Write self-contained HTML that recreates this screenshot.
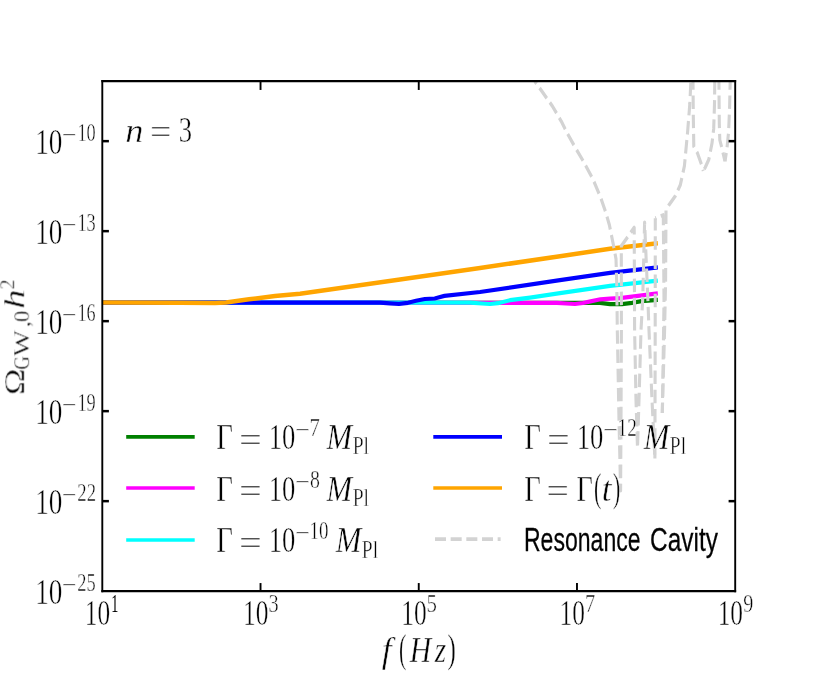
<!DOCTYPE html>
<html><head><meta charset="utf-8"><title>chart</title>
<style>html,body{margin:0;padding:0;background:#fff;}svg{display:block;}</style>
</head><body>
<svg width="817" height="676" viewBox="0 0 817 676">
<rect width="817" height="676" fill="#fff"/>
<defs><clipPath id="ax"><rect x="125.37" y="81.15" width="775.61" height="510.0"/></clipPath></defs>
<g transform="scale(0.816,1)">
<g clip-path="url(#ax)">
<polyline points="125.37,302.60 720.59,302.80 735.29,302.80 747.55,304.20 762.25,304.20 774.51,302.80 786.03,301.10 806.13,299.90" fill="none" stroke="#008000" stroke-width="4.2" stroke-linejoin="round"/>
<polyline points="125.37,302.60 682.60,302.90 693.63,303.50 704.66,304.00 714.46,303.00 722.30,301.60 735.78,299.30 747.55,298.70 759.80,298.20 806.13,293.40" fill="none" stroke="#ff00ff" stroke-width="4.2" stroke-linejoin="round"/>
<polyline points="125.37,302.60 575.98,302.60 590.69,303.50 600.49,304.00 610.29,303.20 625.00,300.20 649.51,297.60 686.27,293.20 747.55,285.90 806.13,280.70" fill="none" stroke="#00ffff" stroke-width="4.2" stroke-linejoin="round"/>
<polyline points="125.37,302.60 465.69,302.60 477.94,303.30 488.97,303.90 500.00,302.80 509.80,300.80 520.59,299.00 532.60,298.50 544.61,295.90 588.24,292.00 686.27,280.10 747.55,272.80 806.13,267.40" fill="none" stroke="#0000ff" stroke-width="4.2" stroke-linejoin="round"/>
<polyline points="125.37,302.60 220.59,302.80 263.48,303.00 276.96,302.60 305.15,299.30 337.01,296.00 367.65,293.70 490.20,279.60 588.24,268.00 686.27,256.20 747.55,248.80 806.13,243.30" fill="none" stroke="#ffa500" stroke-width="4.5" stroke-linejoin="round"/>
<polyline points="655.39,81.15 676.84,106.00 687.87,121.30 695.71,134.00 703.43,145.30 714.83,161.20 725.37,177.20 728.43,182.60 736.15,197.80 742.16,211.90 746.81,225.00 751.72,245.00 754.90,259.00 755.88,286.00 756.50,330.00 758.58,420.00 760.54,490.50 761.03,420.00 761.52,330.00 761.40,246.00 777.21,227.60 777.70,330.00 779.41,400.00 781.25,448.00 783.09,400.00 785.54,330.00 787.62,300.00 789.95,222.30 794.00,300.00 795.34,330.00 799.02,400.00 802.57,458.50" fill="none" stroke="#d3d3d3" stroke-width="3.8" stroke-dasharray="13.5 5.7" stroke-dashoffset="10.19" stroke-linejoin="round" stroke-linecap="butt"/>
<polyline points="802.57,458.50 802.94,330.00 803.06,218.30" fill="none" stroke="#d3d3d3" stroke-width="3.8" stroke-dasharray="13.5 5.7" stroke-dashoffset="2.40" stroke-linejoin="round" stroke-linecap="butt"/>
<polyline points="803.06,218.30 812.87,215.00 813.73,300.00 813.24,330.00 811.64,413.00" fill="none" stroke="#d3d3d3" stroke-width="3.8" stroke-dasharray="13.5 5.7" stroke-dashoffset="12.20" stroke-linejoin="round" stroke-linecap="butt"/>
<polyline points="811.64,413.00 814.46,330.00 815.69,280.00 816.18,210.50" fill="none" stroke="#d3d3d3" stroke-width="3.8" stroke-dasharray="13.5 5.7" stroke-dashoffset="2.94" stroke-linejoin="round" stroke-linecap="butt"/>
<polyline points="816.18,210.50 819.36,205.60 827.57,196.00 833.70,185.00 838.73,166.00 842.65,132.00 845.34,104.00 846.69,81.15" fill="none" stroke="#d3d3d3" stroke-width="3.8" stroke-dasharray="13.5 5.7" stroke-dashoffset="13.50" stroke-linejoin="round" stroke-linecap="butt"/>
<polyline points="849.26,81.15 849.63,115.60 850.25,146.50 854.66,153.00 859.68,164.40 861.89,170.80" fill="none" stroke="#d3d3d3" stroke-width="3.8" stroke-dasharray="13.5 5.7" stroke-dashoffset="4.90" stroke-linejoin="round" stroke-linecap="butt"/>
<polyline points="861.89,170.80 864.22,167.50 868.63,159.50 872.55,143.30 874.63,128.70 875.61,104.00 875.98,81.15" fill="none" stroke="#d3d3d3" stroke-width="3.8" stroke-dasharray="13.5 5.7" stroke-dashoffset="17.14" stroke-linejoin="round" stroke-linecap="butt"/>
<polyline points="881.00,81.15 881.50,123.80 882.11,140.00 884.19,146.50 888.48,161.30" fill="none" stroke="#d3d3d3" stroke-width="3.8" stroke-dasharray="13.5 5.7" stroke-dashoffset="4.90" stroke-linejoin="round" stroke-linecap="butt"/>
<polyline points="888.48,161.30 890.93,148.00 892.89,132.00 894.12,107.50 894.85,81.15" fill="none" stroke="#d3d3d3" stroke-width="3.8" stroke-dasharray="13.5 5.7" stroke-dashoffset="4.87" stroke-linejoin="round" stroke-linecap="butt"/>
</g>
<line x1="154.66" x2="238.60" y1="436.8" y2="436.8" stroke="#008000" stroke-width="3.7"/>
<line x1="154.66" x2="238.60" y1="488.0" y2="488.0" stroke="#ff00ff" stroke-width="3.7"/>
<line x1="154.66" x2="238.60" y1="540.0" y2="540.0" stroke="#00ffff" stroke-width="3.7"/>
<line x1="531.00" x2="615.20" y1="436.8" y2="436.8" stroke="#0000ff" stroke-width="3.7"/>
<line x1="531.00" x2="615.20" y1="488.0" y2="488.0" stroke="#ffa500" stroke-width="3.7"/>
<line x1="533.09" x2="613.48" y1="539.1" y2="539.1" stroke="#d3d3d3" stroke-width="3.7" stroke-dasharray="13.5 5.7"/>
</g>
<line x1="102.3" x2="102.3" y1="80.0" y2="592.3" stroke="#000" stroke-width="1.9"/>
<line x1="735.2" x2="735.2" y1="80.0" y2="592.3" stroke="#000" stroke-width="1.9"/>
<line x1="101.35" x2="736.1500000000001" y1="81.15" y2="81.15" stroke="#000" stroke-width="2.3"/>
<line x1="101.35" x2="736.1500000000001" y1="591.15" y2="591.15" stroke="#000" stroke-width="2.3"/>
<line x1="260.53" x2="260.53" y1="591.15" y2="583.05" stroke="#000" stroke-width="1.9"/>
<line x1="260.53" x2="260.53" y1="81.15" y2="89.95" stroke="#000" stroke-width="1.9"/>
<line x1="418.75" x2="418.75" y1="591.15" y2="583.05" stroke="#000" stroke-width="1.9"/>
<line x1="418.75" x2="418.75" y1="81.15" y2="89.95" stroke="#000" stroke-width="1.9"/>
<line x1="576.98" x2="576.98" y1="591.15" y2="583.05" stroke="#000" stroke-width="1.9"/>
<line x1="576.98" x2="576.98" y1="81.15" y2="89.95" stroke="#000" stroke-width="1.9"/>
<line x1="102.3" x2="108.89999999999999" y1="141.15" y2="141.15" stroke="#000" stroke-width="2.5"/>
<line x1="735.2" x2="728.6" y1="141.15" y2="141.15" stroke="#000" stroke-width="2.5"/>
<line x1="102.3" x2="108.89999999999999" y1="231.15" y2="231.15" stroke="#000" stroke-width="2.5"/>
<line x1="735.2" x2="728.6" y1="231.15" y2="231.15" stroke="#000" stroke-width="2.5"/>
<line x1="102.3" x2="108.89999999999999" y1="321.15" y2="321.15" stroke="#000" stroke-width="2.5"/>
<line x1="735.2" x2="728.6" y1="321.15" y2="321.15" stroke="#000" stroke-width="2.5"/>
<line x1="102.3" x2="108.89999999999999" y1="411.15" y2="411.15" stroke="#000" stroke-width="2.5"/>
<line x1="735.2" x2="728.6" y1="411.15" y2="411.15" stroke="#000" stroke-width="2.5"/>
<line x1="102.3" x2="108.89999999999999" y1="501.15" y2="501.15" stroke="#000" stroke-width="2.5"/>
<line x1="735.2" x2="728.6" y1="501.15" y2="501.15" stroke="#000" stroke-width="2.5"/>
<g id="txt" stroke="#fff" stroke-width="0.45" opacity="0.99">
<text transform="translate(35.21,154.35) scale(0.7428,1)" font-family="'Liberation Serif', serif" font-style="normal" font-size="36.66" fill="#000">10</text>
<text transform="translate(61.70,143.35) scale(1.0404,1)" font-family="'Liberation Serif', serif" font-style="normal" font-size="24.99" fill="#000">−</text>
<text transform="translate(77.39,141.15) scale(0.7324,1)" font-family="'Liberation Serif', serif" font-style="normal" font-size="24.99" fill="#000">10</text>
<text transform="translate(35.21,244.35) scale(0.7428,1)" font-family="'Liberation Serif', serif" font-style="normal" font-size="36.66" fill="#000">10</text>
<text transform="translate(61.70,233.35) scale(1.0404,1)" font-family="'Liberation Serif', serif" font-style="normal" font-size="24.99" fill="#000">−</text>
<text transform="translate(77.39,231.15) scale(0.7332,1)" font-family="'Liberation Serif', serif" font-style="normal" font-size="24.99" fill="#000">13</text>
<text transform="translate(35.21,334.35) scale(0.7428,1)" font-family="'Liberation Serif', serif" font-style="normal" font-size="36.66" fill="#000">10</text>
<text transform="translate(61.70,323.35) scale(1.0404,1)" font-family="'Liberation Serif', serif" font-style="normal" font-size="24.99" fill="#000">−</text>
<text transform="translate(77.41,321.15) scale(0.7255,1)" font-family="'Liberation Serif', serif" font-style="normal" font-size="24.99" fill="#000">16</text>
<text transform="translate(35.21,424.35) scale(0.7428,1)" font-family="'Liberation Serif', serif" font-style="normal" font-size="36.66" fill="#000">10</text>
<text transform="translate(61.70,413.35) scale(1.0404,1)" font-family="'Liberation Serif', serif" font-style="normal" font-size="24.99" fill="#000">−</text>
<text transform="translate(77.39,411.15) scale(0.7349,1)" font-family="'Liberation Serif', serif" font-style="normal" font-size="24.99" fill="#000">19</text>
<text transform="translate(35.21,514.35) scale(0.7428,1)" font-family="'Liberation Serif', serif" font-style="normal" font-size="36.66" fill="#000">10</text>
<text transform="translate(61.70,503.35) scale(1.0404,1)" font-family="'Liberation Serif', serif" font-style="normal" font-size="24.99" fill="#000">−</text>
<text transform="translate(77.28,501.15) scale(0.7506,1)" font-family="'Liberation Serif', serif" font-style="normal" font-size="24.99" fill="#000">22</text>
<text transform="translate(35.21,604.35) scale(0.7428,1)" font-family="'Liberation Serif', serif" font-style="normal" font-size="36.66" fill="#000">10</text>
<text transform="translate(61.70,593.35) scale(1.0404,1)" font-family="'Liberation Serif', serif" font-style="normal" font-size="24.99" fill="#000">−</text>
<text transform="translate(77.29,591.15) scale(0.7374,1)" font-family="'Liberation Serif', serif" font-style="normal" font-size="24.99" fill="#000">25</text>
<text transform="translate(84.77,625.10) scale(0.6929,1)" font-family="'Liberation Serif', serif" font-style="normal" font-size="36.66" fill="#000">10</text>
<text transform="translate(111.35,611.90) scale(0.5682,1)" font-family="'Liberation Serif', serif" font-style="normal" font-size="24.99" fill="#000" stroke="none">1</text>
<text transform="translate(242.99,625.10) scale(0.6929,1)" font-family="'Liberation Serif', serif" font-style="normal" font-size="36.66" fill="#000">10</text>
<text transform="translate(268.55,611.90) scale(0.8136,1)" font-family="'Liberation Serif', serif" font-style="normal" font-size="24.99" fill="#000">3</text>
<text transform="translate(401.22,625.10) scale(0.6929,1)" font-family="'Liberation Serif', serif" font-style="normal" font-size="36.66" fill="#000">10</text>
<text transform="translate(426.54,611.90) scale(0.8343,1)" font-family="'Liberation Serif', serif" font-style="normal" font-size="24.99" fill="#000">5</text>
<text transform="translate(559.44,625.10) scale(0.6929,1)" font-family="'Liberation Serif', serif" font-style="normal" font-size="36.66" fill="#000">10</text>
<text transform="translate(584.92,611.90) scale(0.8194,1)" font-family="'Liberation Serif', serif" font-style="normal" font-size="24.99" fill="#000">7</text>
<text transform="translate(717.67,625.10) scale(0.6929,1)" font-family="'Liberation Serif', serif" font-style="normal" font-size="36.66" fill="#000">10</text>
<text transform="translate(743.35,611.90) scale(0.8063,1)" font-family="'Liberation Serif', serif" font-style="normal" font-size="24.99" fill="#000">9</text>
<text transform="translate(125.30,141.50) scale(1.0799,1)" font-family="'Liberation Serif', serif" font-style="italic" font-size="33.73" fill="#000">n</text>
<text transform="translate(150.02,144.20) scale(1.0318,1)" font-family="'Liberation Serif', serif" font-style="normal" font-size="36.66" fill="#000">=</text>
<text transform="translate(178.73,141.70) scale(0.7264,1)" font-family="'Liberation Serif', serif" font-style="normal" font-size="36.66" fill="#000">3</text>
<text transform="translate(216.27,449.10) scale(0.8021,1)" font-family="'Liberation Serif', serif" font-style="normal" font-size="35.92" fill="#000">Γ</text>
<text transform="translate(238.88,451.80) scale(1.1080,1)" font-family="'Liberation Serif', serif" font-style="normal" font-size="36.66" fill="#000">=</text>
<text transform="translate(268.66,449.10) scale(0.7272,1)" font-family="'Liberation Serif', serif" font-style="normal" font-size="36.66" fill="#000">10</text>
<text transform="translate(294.88,438.10) scale(1.0576,1)" font-family="'Liberation Serif', serif" font-style="normal" font-size="24.99" fill="#000">−</text>
<text transform="translate(309.43,435.90) scale(0.8293,1)" font-family="'Liberation Serif', serif" font-style="normal" font-size="24.99" fill="#000">7</text>
<text transform="translate(326.56,449.10) scale(0.8392,1)" font-family="'Liberation Serif', serif" font-style="italic" font-size="36.66" fill="#000">M</text>
<text transform="translate(352.63,454.30) scale(0.7847,1)" font-family="'Liberation Serif', serif" font-style="normal" font-size="24.99" fill="#000">Pl</text>
<text transform="translate(216.27,500.70) scale(0.8021,1)" font-family="'Liberation Serif', serif" font-style="normal" font-size="35.92" fill="#000">Γ</text>
<text transform="translate(238.88,503.40) scale(1.1080,1)" font-family="'Liberation Serif', serif" font-style="normal" font-size="36.66" fill="#000">=</text>
<text transform="translate(268.66,500.70) scale(0.7272,1)" font-family="'Liberation Serif', serif" font-style="normal" font-size="36.66" fill="#000">10</text>
<text transform="translate(294.88,489.70) scale(1.0576,1)" font-family="'Liberation Serif', serif" font-style="normal" font-size="24.99" fill="#000">−</text>
<text transform="translate(310.05,487.50) scale(0.7930,1)" font-family="'Liberation Serif', serif" font-style="normal" font-size="24.99" fill="#000">8</text>
<text transform="translate(326.56,500.70) scale(0.8392,1)" font-family="'Liberation Serif', serif" font-style="italic" font-size="36.66" fill="#000">M</text>
<text transform="translate(352.63,505.90) scale(0.7847,1)" font-family="'Liberation Serif', serif" font-style="normal" font-size="24.99" fill="#000">Pl</text>
<text transform="translate(216.27,552.40) scale(0.8021,1)" font-family="'Liberation Serif', serif" font-style="normal" font-size="35.92" fill="#000">Γ</text>
<text transform="translate(238.88,555.10) scale(1.1080,1)" font-family="'Liberation Serif', serif" font-style="normal" font-size="36.66" fill="#000">=</text>
<text transform="translate(268.66,552.40) scale(0.7272,1)" font-family="'Liberation Serif', serif" font-style="normal" font-size="36.66" fill="#000">10</text>
<text transform="translate(294.88,541.40) scale(1.0576,1)" font-family="'Liberation Serif', serif" font-style="normal" font-size="24.99" fill="#000">−</text>
<text transform="translate(309.53,539.20) scale(0.7599,1)" font-family="'Liberation Serif', serif" font-style="normal" font-size="24.99" fill="#000">10</text>
<text transform="translate(335.66,552.40) scale(0.8392,1)" font-family="'Liberation Serif', serif" font-style="italic" font-size="36.66" fill="#000">M</text>
<text transform="translate(361.73,557.60) scale(0.7847,1)" font-family="'Liberation Serif', serif" font-style="normal" font-size="24.99" fill="#000">Pl</text>
<text transform="translate(524.27,449.10) scale(0.8021,1)" font-family="'Liberation Serif', serif" font-style="normal" font-size="35.92" fill="#000">Γ</text>
<text transform="translate(546.88,451.80) scale(1.1080,1)" font-family="'Liberation Serif', serif" font-style="normal" font-size="36.66" fill="#000">=</text>
<text transform="translate(576.66,449.10) scale(0.7272,1)" font-family="'Liberation Serif', serif" font-style="normal" font-size="36.66" fill="#000">10</text>
<text transform="translate(602.88,438.10) scale(1.0576,1)" font-family="'Liberation Serif', serif" font-style="normal" font-size="24.99" fill="#000">−</text>
<text transform="translate(617.50,435.90) scale(0.7750,1)" font-family="'Liberation Serif', serif" font-style="normal" font-size="24.99" fill="#000">12</text>
<text transform="translate(643.66,449.10) scale(0.8392,1)" font-family="'Liberation Serif', serif" font-style="italic" font-size="36.66" fill="#000">M</text>
<text transform="translate(669.73,454.30) scale(0.7847,1)" font-family="'Liberation Serif', serif" font-style="normal" font-size="24.99" fill="#000">Pl</text>
<text transform="translate(524.28,500.70) scale(0.7967,1)" font-family="'Liberation Serif', serif" font-style="normal" font-size="35.92" fill="#000">Γ</text>
<text transform="translate(546.29,503.40) scale(1.1021,1)" font-family="'Liberation Serif', serif" font-style="normal" font-size="36.66" fill="#000">=</text>
<text transform="translate(576.59,500.70) scale(0.7859,1)" font-family="'Liberation Serif', serif" font-style="normal" font-size="35.92" fill="#000">Γ</text>
<text transform="translate(594.04,500.70) scale(0.5507,1)" font-family="'Liberation Serif', serif" font-style="normal" font-size="39.59" fill="#000">(</text>
<text transform="translate(601.66,500.70) scale(0.9562,1)" font-family="'Liberation Serif', serif" font-style="italic" font-size="36.66" fill="#000">t</text>
<text transform="translate(612.90,500.70) scale(0.5507,1)" font-family="'Liberation Serif', serif" font-style="normal" font-size="39.59" fill="#000">)</text>
<text transform="translate(523.91,550.70) scale(0.6812,1)" font-family="'Liberation Sans', sans-serif" font-style="normal" font-size="33.87" fill="#000" stroke="#000" stroke-width="0.25">Resonance</text>
<text transform="translate(650.06,550.70) scale(0.7226,1)" font-family="'Liberation Sans', sans-serif" font-style="normal" font-size="33.87" fill="#000" stroke="#000" stroke-width="0.25">Cavity</text>
<text transform="translate(381.80,661.90) scale(0.9716,1)" font-family="'Liberation Serif', serif" font-style="italic" font-size="36.66" fill="#000">f</text>
<text transform="translate(399.04,661.90) scale(0.5507,1)" font-family="'Liberation Serif', serif" font-style="normal" font-size="39.59" fill="#000">(</text>
<text transform="translate(409.72,661.90) scale(0.8101,1)" font-family="'Liberation Serif', serif" font-style="italic" font-size="36.66" fill="#000">H</text>
<text transform="translate(434.73,661.90) scale(0.7961,1)" font-family="'Liberation Serif', serif" font-style="italic" font-size="36.66" fill="#000">z</text>
<text transform="translate(447.40,661.90) scale(0.6294,1)" font-family="'Liberation Serif', serif" font-style="normal" font-size="39.59" fill="#000">)</text>
<g transform="translate(24.2,392.4) rotate(-90)"><text transform="translate(-2.76,0.00) scale(1.2336,1)" font-family="'Liberation Serif', serif" font-style="normal" font-size="29.15" fill="#000">Ω</text><text transform="translate(22.63,5.00) scale(0.8493,1)" font-family="'Liberation Serif', serif" font-style="normal" font-size="22.10" fill="#000">G</text><text transform="translate(35.97,5.00) scale(1.2597,1)" font-family="'Liberation Serif', serif" font-style="normal" font-size="22.10" fill="#000">W</text><text transform="translate(65.28,5.00) scale(1.0936,1)" font-family="'Liberation Serif', serif" font-style="normal" font-size="22.10" fill="#000">,</text><text transform="translate(70.32,5.30) scale(1.0461,1)" font-family="'Liberation Serif', serif" font-style="normal" font-size="22.10" fill="#000">0</text><text transform="translate(83.49,0.00) scale(1.3012,1)" font-family="'Liberation Serif', serif" font-style="italic" font-size="30.02" fill="#000">h</text><text transform="translate(103.12,-10.30) scale(0.9813,1)" font-family="'Liberation Serif', serif" font-style="normal" font-size="20.34" fill="#000">2</text></g>
</g>
</svg>
</body></html>
